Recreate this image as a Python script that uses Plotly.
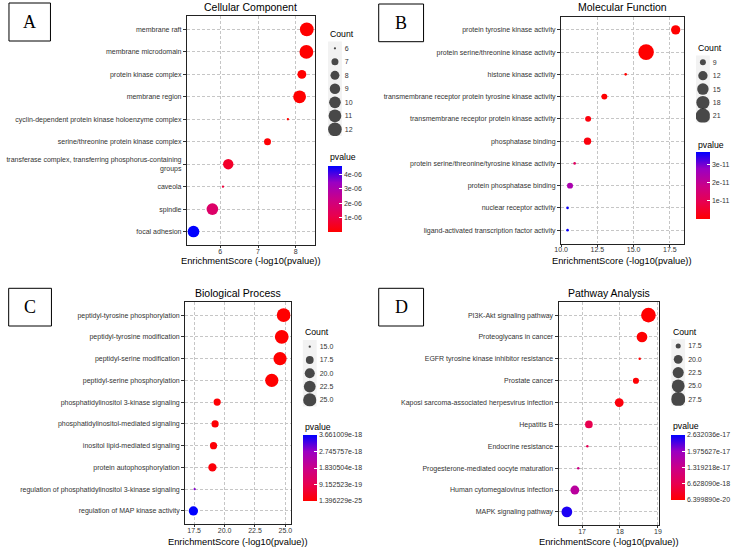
import plotly.graph_objects as go

W, H = 738, 549

# ---------------- data ----------------
cc_terms = ["membrane raft", "membrane microdomain", "protein kinase complex", "membrane region",
            "cyclin-dependent protein kinase holoenzyme complex", "serine/threonine protein kinase complex",
            "transferase complex, transferring phosphorus-containing<br>groups", "caveola", "spindle",
            "focal adhesion"]
cc_score = [8.29, 8.28, 8.16, 8.10, 7.79, 7.25, 6.21, 6.07, 5.79, 5.29]
cc_count = [12, 12, 8, 11, 6, 7, 9, 6, 10, 10]
cc_size_breaks = [6, 7, 8, 9, 10, 11, 12]
cc_size_labels = ["6", "7", "8", "9", "10", "11", "12"]
cc_p_ticks = [1e-06, 2e-06, 3e-06, 4e-06]
cc_p_labels = ["1e-06", "2e-06", "3e-06", "4e-06"]
cc_p_limits = [5.1e-09, 4.57e-06]
cc_x_ticks = [6, 7, 8]
cc_x_labels = ["6", "7", "8"]

mf_terms = ["protein tyrosine kinase activity", "protein serine/threonine kinase activity",
            "histone kinase activity", "transmembrane receptor protein tyrosine kinase activity",
            "transmembrane receptor protein kinase activity", "phosphatase binding",
            "protein serine/threonine/tyrosine kinase activity", "protein phosphatase binding",
            "nuclear receptor activity", "ligand-activated transcription factor activity"]
mf_score = [17.9, 15.86, 14.45, 12.98, 11.86, 11.82, 10.93, 10.61, 10.44, 10.44]
mf_count = [12, 23, 8, 9, 9, 10, 8, 9, 8, 8]
mf_size_breaks = [9, 12, 15, 18, 21]
mf_size_labels = ["9", "12", "15", "18", "21"]
mf_p_ticks = [1e-11, 2e-11, 3e-11]
mf_p_labels = ["1e-11", "2e-11", "3e-11"]
mf_p_limits = [1.3e-18, 3.7e-11]
mf_x_ticks = [10.0, 12.5, 15.0, 17.5]
mf_x_labels = ["10.0", "12.5", "15.0", "17.5"]

bp_terms = ["peptidyl-tyrosine phosphorylation", "peptidyl-tyrosine modification",
            "peptidyl-serine modification", "peptidyl-serine phosphorylation",
            "phosphatidylinositol 3-kinase signaling", "phosphatidylinositol-mediated signaling",
            "inositol lipid-mediated signaling", "protein autophosphorylation",
            "regulation of phosphatidylinositol 3-kinase signaling", "regulation of MAP kinase activity"]
bp_score = [24.855, 24.70, 24.56, 23.88, 19.39, 19.22, 19.09, 19.00, 17.54, 17.436]
bp_count = [26, 26, 25, 25, 17, 17, 17, 18, 15, 19]
bp_size_breaks = [15.0, 17.5, 20.0, 22.5, 25.0]
bp_size_labels = ["15.0", "17.5", "20.0", "22.5", "25.0"]
bp_p_ticks = [1.396229e-25, 9.152523e-19, 1.830504e-18, 2.745757e-18, 3.661009e-18]
bp_p_labels = ["1.396229e-25", "9.152523e-19", "1.830504e-18", "2.745757e-18", "3.661009e-18"]
bp_p_limits = [1.396229e-25, 3.661009e-18]
bp_x_ticks = [17.5, 20.0, 22.5, 25.0]
bp_x_labels = ["17.5", "20.0", "22.5", "25.0"]

kegg_terms = ["PI3K-Akt signaling pathway", "Proteoglycans in cancer",
              "EGFR tyrosine kinase inhibitor resistance", "Prostate cancer",
              "Kaposi sarcoma-associated herpesvirus infection", "Hepatitis B", "Endocrine resistance",
              "Progesterone-mediated oocyte maturation", "Human cytomegalovirus infection",
              "MAPK signaling pathway"]
kegg_score = [18.75, 18.58, 18.52, 18.42, 17.98, 17.18, 17.14, 16.90, 16.81, 16.60]
kegg_count = [28, 22, 17, 18, 20, 19, 17, 17, 20, 22]
kegg_size_breaks = [17.5, 20.0, 22.5, 25.0, 27.5]
kegg_size_labels = ["17.5", "20.0", "22.5", "25.0", "27.5"]
kegg_p_ticks = [6.399890e-20, 6.628090e-18, 1.319218e-17, 1.975627e-17, 2.632036e-17]
kegg_p_labels = ["6.399890e-20", "6.628090e-18", "1.319218e-17", "1.975627e-17", "2.632036e-17"]
kegg_p_limits = [6.399890e-20, 2.632036e-17]
kegg_x_ticks = [17, 18, 19]
kegg_x_labels = ["17", "18", "19"]

# ---------------- styling / layout ----------------
FONT = "Liberation Sans, Arial, sans-serif"
SERIF = "Liberation Serif, Times New Roman, serif"
TXT = "#333333"
GRID = "#c6c6c6"
COLORSCALE = [[0, "#FF0000"], [0.25, "#E8004F"], [0.5, "#CA0089"], [0.75, "#9A00C3"], [1, "#0000FF"]]


def fx(px):
    return px / W


def fy(py):
    return 1 - py / H


panels = [
    dict(title="Cellular Component", terms=cc_terms, score=cc_score, count=cc_count, k=2.3,
         breaks=cc_size_breaks, blabels=cc_size_labels, pticks=cc_p_ticks, plabels=cc_p_labels,
         plim=cc_p_limits, xticks=cc_x_ticks, xlabels=cc_x_labels,
         box=(182.3, 16, 311.5, 245), xrange=[5.12, 8.50], title_y=7, xtitle_y=261,
         key=(325, 339), key_c=(48.3, 13.5), count_y=34.3, cbar=(325, 166, 232), pval_y=156.7,
         letter="A", lbox=(2, 3, 44, 41)),
    dict(title="Molecular Function", terms=mf_terms, score=mf_score, count=mf_count, k=2.6,
         breaks=mf_size_breaks, blabels=mf_size_labels, pticks=mf_p_ticks, plabels=mf_p_labels,
         plim=mf_p_limits, xticks=mf_x_ticks, xlabels=mf_x_labels,
         box=(561, 16.5, 685, 243.5), xrange=[10.0, 18.45], title_y=7.3, xtitle_y=261,
         key=(697.5, 711.5), key_c=(62.3, 13.4), count_y=48.3, cbar=(697.5, 151.7, 218.3), pval_y=145,
         letter="B", lbox=(376.3, 4, 421.7, 41.7)),
    dict(title="Biological Process", terms=bp_terms, score=bp_score, count=bp_count, k=2.3,
         breaks=bp_size_breaks, blabels=bp_size_labels, pticks=bp_p_ticks, plabels=bp_p_labels,
         plim=bp_p_limits, xticks=bp_x_ticks, xlabels=bp_x_labels,
         box=(180.5, 302, 287, 524), xrange=[16.77, 25.42], title_y=293.3, xtitle_y=542,
         key=(299.5, 313.5), key_c=(346.7, 13.3), count_y=332, cbar=(299.5, 435, 500.7), pval_y=426.7,
         letter="C", lbox=(1.7, 288.3, 45, 326)),
    dict(title="Pathway Analysis", terms=kegg_terms, score=kegg_score, count=kegg_count, k=2.45,
         breaks=kegg_size_breaks, blabels=kegg_size_labels, pticks=kegg_p_ticks, plabels=kegg_p_labels,
         plim=kegg_p_limits, xticks=kegg_x_ticks, xlabels=kegg_x_labels,
         box=(558.5, 302, 660.5, 525), xrange=[16.384, 19.04], title_y=293.3, xtitle_y=542,
         key=(672.5, 686.5), key_c=(346, 13.3), count_y=332, cbar=(672.5, 435, 500), pval_y=426,
         letter="D", lbox=(376.3, 288.3, 421.7, 326)),
]


def size_of(c, cmin, cmax, k):
    t = (c - cmin) / (cmax - cmin)
    t = min(max(t, 0.0), 1.0)
    return k * (1 + 5 * t ** 0.5)


fig = go.Figure()
layout = dict(width=W, height=H, margin=dict(l=0, r=0, t=0, b=0), autosize=False,
              paper_bgcolor="white", plot_bgcolor="white", font=dict(family=FONT, color=TXT),
              showlegend=False)
annotations = []
shapes = []

for i, p in enumerate(panels, start=1):
    ax = "" if i == 1 else str(i)
    lx = str(i + 4)
    cmin_c, cmax_c = min(p["count"]), max(p["count"])
    pvals = [10 ** (-s) for s in p["score"]]
    sizes = [size_of(c, cmin_c, cmax_c, p["k"]) for c in p["count"]]
    n = len(p["terms"])

    fig.add_trace(go.Scatter(
        x=p["score"], y=p["terms"], mode="markers", xaxis="x" + ax, yaxis="y" + ax,
        marker=dict(size=sizes, color=pvals, coloraxis="coloraxis" + ax, line=dict(width=0),
                    opacity=1),
        hovertemplate="%{y}<br>%{x}<extra></extra>"))

    x0, y0, x1, y1 = p["box"]
    layout["xaxis" + ax] = dict(
        domain=[fx(x0), fx(x1)], anchor="y" + ax, range=p["xrange"], tickvals=p["xticks"],
        ticktext=p["xlabels"], showgrid=True, gridcolor=GRID, griddash="3px,2px", gridwidth=0.8,
        zeroline=False, showline=True, linecolor="#222222", linewidth=1.3, mirror=True,
        ticks="outside", ticklen=2, tickcolor="#333333", tickwidth=0.8, ticklabelstandoff=-3,
        tickfont=dict(size=7, color=TXT, family=FONT))
    layout["yaxis" + ax] = dict(
        domain=[fy(y1), fy(y0)], anchor="x" + ax, type="category", categoryorder="array",
        categoryarray=p["terms"], range=[n - 0.4, -0.6], showgrid=True, gridcolor=GRID,
        griddash="3px,2px", gridwidth=0.8, zeroline=False, showline=True, linecolor="#222222",
        linewidth=1.3, mirror=True, ticks="outside", ticklen=3, tickcolor="#333333", tickwidth=0.8,
        tickfont=dict(size=7, color=TXT, family=FONT))

    # colour scale
    cx0, cy0, cy1 = p["cbar"]
    layout["coloraxis" + ax] = dict(
        cmin=p["plim"][0], cmax=p["plim"][1], colorscale=COLORSCALE,
        colorbar=dict(x=fx(cx0), xanchor="left", y=fy(cy0), yanchor="top", len=cy1 - cy0,
                      lenmode="pixels", thickness=14, thicknessmode="pixels", xpad=0, ypad=0,
                      outlinewidth=0, tickvals=p["pticks"], ticktext=p["plabels"], ticks="inside",
                      ticklen=3, tickcolor="white", tickwidth=1,
                      tickfont=dict(size=7, color=TXT, family=FONT), title=dict(text="")))

    # size legend (hidden axis pair, labels on a right-side category axis)
    kx0, kx1 = p["key"]
    c0, step = p["key_c"]
    nb = len(p["breaks"])
    ky0 = c0 - step / 2
    ky1 = ky0 + step * nb
    fig.add_trace(go.Scatter(
        x=[0] * nb, y=p["blabels"], mode="markers", xaxis="x" + lx, yaxis="y" + lx,
        marker=dict(size=[size_of(b, cmin_c, cmax_c, p["k"]) for b in p["breaks"]], color="black",
                    line=dict(width=0)),
        hoverinfo="skip"))
    layout["xaxis" + lx] = dict(domain=[fx(kx0), fx(kx1)], anchor="y" + lx, range=[-1, 1],
                                visible=False, fixedrange=True)
    layout["yaxis" + lx] = dict(domain=[fy(ky1), fy(ky0)], anchor="x" + lx, type="category",
                                categoryorder="array", categoryarray=p["blabels"],
                                range=[nb - 0.5, -0.5], side="right", showgrid=False, zeroline=False,
                                showline=False, ticks="", ticklabelstandoff=2,
                                tickfont=dict(size=7, color=TXT, family=FONT), fixedrange=True)
    shapes.append(dict(type="rect", xref="x" + lx + " domain", yref="y" + lx + " domain",
                       x0=0, x1=1, y0=0, y1=1, fillcolor="#f2f2f2", line=dict(width=0),
                       layer="below"))

    # texts
    annotations.append(dict(text=p["title"], x=fx((x0 + x1) / 2), y=fy(p["title_y"]), xref="paper",
                            yref="paper", xanchor="center", yanchor="middle", showarrow=False,
                            font=dict(size=10.5, color="black", family=FONT)))
    annotations.append(dict(text="EnrichmentScore (-log10(pvalue))", x=fx((x0 + x1) / 2),
                            y=fy(p["xtitle_y"]), xref="paper", yref="paper", xanchor="center",
                            yanchor="middle", showarrow=False,
                            font=dict(size=9.3, color="black", family=FONT)))
    annotations.append(dict(text="Count", x=fx(kx0), y=fy(p["count_y"]), xref="paper", yref="paper",
                            xanchor="left", yanchor="middle", showarrow=False,
                            font=dict(size=8.7, color="black", family=FONT)))
    annotations.append(dict(text="pvalue", x=fx(kx0), y=fy(p["pval_y"]), xref="paper", yref="paper",
                            xanchor="left", yanchor="middle", showarrow=False,
                            font=dict(size=8.7, color="black", family=FONT)))
    bx0, by0, bx1, by1 = p["lbox"]
    shapes.append(dict(type="rect", xref="paper", yref="paper", x0=fx(bx0), x1=fx(bx1),
                       y0=fy(by1), y1=fy(by0), line=dict(color="black", width=1),
                       fillcolor="rgba(0,0,0,0)"))
    annotations.append(dict(text=p["letter"], x=fx((bx0 + bx1) / 2), y=fy((by0 + by1) / 2),
                            xref="paper", yref="paper", xanchor="center", yanchor="middle",
                            showarrow=False, font=dict(size=18, color="black", family=SERIF)))

layout["annotations"] = annotations
layout["shapes"] = shapes
fig.update_layout(**layout)
fig.write_html("out.html", config={"displayModeBar": False},
               post_script="document.body.style.margin='0px';document.body.style.padding='0px';")
